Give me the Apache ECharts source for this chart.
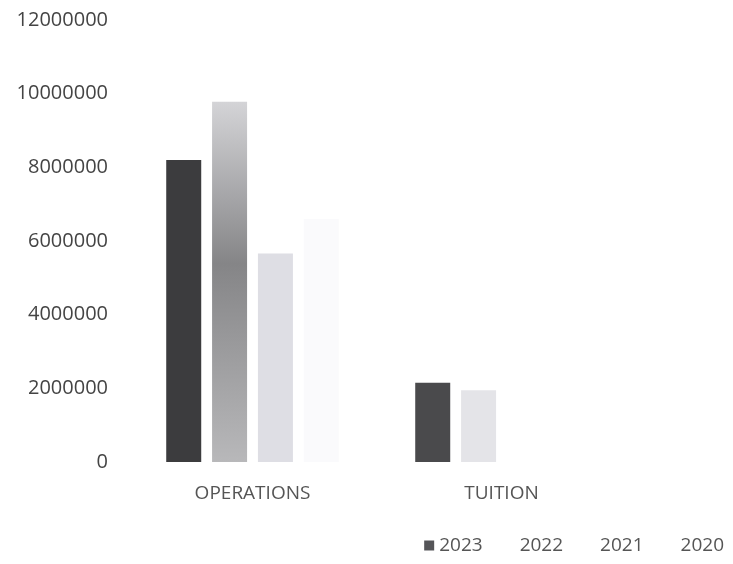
<!DOCTYPE html>
<html>
<head>
<meta charset="utf-8">
<script src="https://cdn.jsdelivr.net/npm/echarts@6/dist/echarts.min.js"></script>
<style>
  html, body { margin: 0; padding: 0; background: #fff; }
  #chart { width: 733px; height: 564px; }
</style>
</head>
<body>
<div id="chart"></div>
<script>
const categories = ['OPERATIONS', 'TUITION']
const years = ['2023', '2022', '2021', '2020']
const values2023 = [8200000, 2150000]
const values2022 = [9780000, 1950000]
const values2021 = [5660000, 0]
const values2020 = [6600000, 0]

// scanned look: each year gets a grey, per category (tuition bars faded more)
const barColors = {
  '2023': ['#3c3c3e', '#4a4a4c'],
  '2022': ['#9a9a9c', '#e4e4e8'],
  '2021': ['#dedee4', '#ffffff'],
  '2020': ['#fafafc', '#ffffff'],
}
const legendColors = { '2023': '#555558', '2022': '#ffffff', '2021': '#ffffff', '2020': '#ffffff' }

const seriesValues = [values2023, values2022, values2021, values2020]

const chart = echarts.init(document.getElementById('chart'))
const font = '"Open Sans", sans-serif'

const series = years.map((y, i) => ({
  name: y,
  type: 'bar',
  barWidth: 35,
  barGap: '31%',
  itemStyle: { color: legendColors[y] },
  data: seriesValues[i].map((v, j) => ({
    value: v,
    itemStyle: {
      color: (y === '2022' && j === 0)
        ? new echarts.graphic.LinearGradient(0, 0, 0, 1, [
            { offset: 0, color: '#d4d4d7' },
            { offset: 0.45, color: '#858587' },
            { offset: 1, color: '#b8b8ba' },
          ])
        : barColors[y][j],
    },
  })),
}))

chart.setOption({
  animation: false,
  backgroundColor: '#fff',
  grid: { left: 128, right: 107, top: 20, bottom: 102 },
  legend: {
    data: years,
    right: 4,
    bottom: 4,
    itemWidth: 10,
    itemHeight: 10,
    itemGap: 22,
    icon: 'rect',
    textStyle: { fontFamily: font, fontSize: 19, color: '#555' },
  },
  xAxis: {
    type: 'category',
    data: categories,
    axisLine: { show: false },
    axisTick: { show: false },
    axisLabel: { fontFamily: font, fontSize: 19, color: '#555', margin: 22 },
  },
  yAxis: {
    type: 'value',
    min: 0,
    max: 12000000,
    interval: 2000000,
    splitLine: { show: false },
    axisLine: { show: false },
    axisTick: { show: false },
    axisLabel: {
      fontFamily: font,
      fontSize: 20,
      color: '#444',
      margin: 20,
      formatter: (v) => String(v),
    },
  },
  series,
})
</script>
</body>
</html>
